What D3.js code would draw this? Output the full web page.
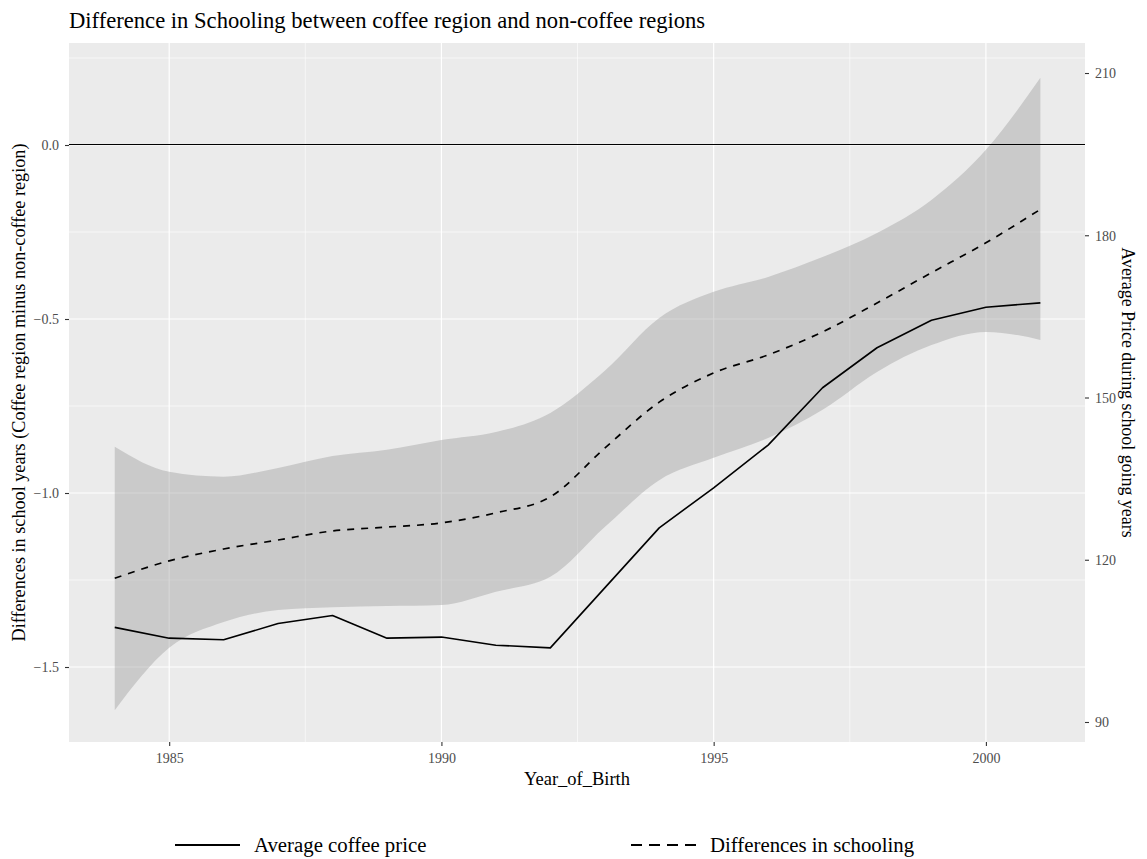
<!DOCTYPE html>
<html>
<head>
<meta charset="utf-8">
<script src="https://cdn.jsdelivr.net/npm/d3@7"></script>
<style>
  html, body { margin: 0; padding: 0; background: #ffffff; }
  svg { display: block; }
  text { font-family: "Liberation Serif", "DejaVu Serif", serif; }
</style>
</head>
<body>
<svg id="chart" width="1147" height="859"></svg>
<script>
// Birth cohorts
const years = [1984, 1985, 1986, 1987, 1988, 1989, 1990, 1991, 1992,
               1993, 1994, 1995, 1996, 1997, 1998, 1999, 2000, 2001];

// Average coffee price during school-going years (right axis)
const coffeePrice = [107.5, 105.5, 105.2, 108.2, 109.7, 105.5, 105.7, 104.2, 103.7,
                     114.8, 125.9, 133.3, 141.2, 151.8, 159.2, 164.3, 166.7, 167.5];

// Smoothed difference in schooling, coffee minus non-coffee region (left axis)
const schoolingDiff = [-1.245, -1.195, -1.161, -1.135, -1.109, -1.098, -1.086, -1.057, -1.011,
                       -0.871, -0.739, -0.655, -0.603, -0.537, -0.454, -0.367, -0.281, -0.185];

// Confidence band around the smoothed difference
const bandUpper = [-0.867, -0.939, -0.953, -0.928, -0.894, -0.876, -0.848, -0.825, -0.770,
                   -0.649, -0.497, -0.422, -0.379, -0.322, -0.253, -0.158, -0.014, 0.193];
const bandLower = [-1.624, -1.445, -1.371, -1.336, -1.328, -1.325, -1.322, -1.284, -1.241,
                   -1.098, -0.963, -0.899, -0.842, -0.761, -0.652, -0.575, -0.537, -0.560];

// Tick values
const xTicks = [1985, 1990, 1995, 2000];
const xMinorTicks = [1987.5, 1992.5, 1997.5];
const leftTicks = [0.0, -0.5, -1.0, -1.5];
const leftMinorTicks = [0.25, -0.25, -0.75, -1.25];
const rightTicks = [90, 120, 150, 180, 210];

const legendLabels = ["Average coffee price", "Differences in schooling"];

const svg = d3.select("#chart");
const panel = { left: 69, right: 1085, top: 43, bottom: 742 };

const x = d3.scaleLinear().domain([1983.16, 2001.82]).range([panel.left, panel.right]);
const yL = d3.scaleLinear().domain([-1.7155, 0.2931]).range([panel.bottom, panel.top]);
const yR = d3.scaleLinear().domain([86.30, 215.55]).range([panel.bottom, panel.top]);

// Panel background
svg.append("rect")
  .attr("x", panel.left).attr("y", panel.top)
  .attr("width", panel.right - panel.left).attr("height", panel.bottom - panel.top)
  .attr("fill", "#EBEBEB");

const grid = svg.append("g");
// Minor grid
grid.selectAll("line.vminor").data(xMinorTicks).join("line")
  .attr("x1", d => x(d)).attr("x2", d => x(d))
  .attr("y1", panel.top).attr("y2", panel.bottom)
  .attr("stroke", "#ffffff").attr("stroke-width", 0.6);
grid.selectAll("line.hminor").data(leftMinorTicks).join("line")
  .attr("x1", panel.left).attr("x2", panel.right)
  .attr("y1", d => yL(d)).attr("y2", d => yL(d))
  .attr("stroke", "#ffffff").attr("stroke-width", 0.6);
// Major grid
grid.selectAll("line.vmajor").data(xTicks).join("line")
  .attr("x1", d => x(d)).attr("x2", d => x(d))
  .attr("y1", panel.top).attr("y2", panel.bottom)
  .attr("stroke", "#ffffff").attr("stroke-width", 1.2);
grid.selectAll("line.hmajor").data(leftTicks).join("line")
  .attr("x1", panel.left).attr("x2", panel.right)
  .attr("y1", d => yL(d)).attr("y2", d => yL(d))
  .attr("stroke", "#ffffff").attr("stroke-width", 1.2);

const rows = years.map((yr, i) => ({
  year: yr, price: coffeePrice[i], diff: schoolingDiff[i],
  lo: bandLower[i], hi: bandUpper[i]
}));

// Confidence band
svg.append("path")
  .datum(rows)
  .attr("d", d3.area()
    .x(d => x(d.year))
    .y0(d => yL(d.lo))
    .y1(d => yL(d.hi))
    .curve(d3.curveMonotoneX))
  .attr("fill", "#999999").attr("fill-opacity", 0.4);

// Zero reference line
svg.append("line")
  .attr("x1", panel.left).attr("x2", panel.right)
  .attr("y1", yL(0)).attr("y2", yL(0))
  .attr("stroke", "#000000").attr("stroke-width", 1)
  .attr("shape-rendering", "crispEdges");

// Smoothed schooling difference (dashed)
svg.append("path")
  .datum(rows)
  .attr("d", d3.line().x(d => x(d.year)).y(d => yL(d.diff)).curve(d3.curveMonotoneX))
  .attr("fill", "none").attr("stroke", "#000000")
  .attr("stroke-width", 1.7).attr("stroke-dasharray", "7,7");

// Coffee price (solid)
svg.append("path")
  .datum(rows)
  .attr("d", d3.line().x(d => x(d.year)).y(d => yR(d.price)))
  .attr("fill", "none").attr("stroke", "#000000")
  .attr("stroke-width", 1.6).attr("stroke-linejoin", "round");

// Axes
const tickColor = "#333333";
const labelColor = "#4D4D4D";

const xAxis = svg.append("g")
  .attr("transform", `translate(0,${panel.bottom})`)
  .call(d3.axisBottom(x).tickValues(xTicks).tickFormat(d3.format("d")).tickSize(4).tickPadding(7));
const yAxisL = svg.append("g")
  .attr("transform", `translate(${panel.left},0)`)
  .call(d3.axisLeft(yL).tickValues(leftTicks).tickFormat(d3.format(".1f")).tickSize(4).tickPadding(6));
const yAxisR = svg.append("g")
  .attr("transform", `translate(${panel.right},0)`)
  .call(d3.axisRight(yR).tickValues(rightTicks).tickFormat(d3.format("d")).tickSize(4).tickPadding(6));

[xAxis, yAxisL, yAxisR].forEach(g => {
  g.select(".domain").remove();
  g.selectAll(".tick line").attr("stroke", tickColor).attr("stroke-width", 1.1);
  g.selectAll(".tick text")
    .attr("fill", labelColor)
    .style("font-family", "'Liberation Serif', serif")
    .style("font-size", "14px");
});
yAxisL.selectAll(".tick text").attr("dy", "0.35em");
yAxisR.selectAll(".tick text").attr("dy", "0.35em");

// Title
svg.append("text")
  .attr("x", panel.left).attr("y", 28)
  .style("font-size", "22.6px").attr("fill", "#000000")
  .text("Difference in Schooling between coffee region and non-coffee regions");

// Axis titles
svg.append("text")
  .attr("x", (panel.left + panel.right) / 2).attr("y", 785)
  .attr("text-anchor", "middle")
  .style("font-size", "18.5px").attr("fill", "#000000")
  .text("Year_of_Birth");

svg.append("text")
  .attr("transform", `translate(25,${(panel.top + panel.bottom) / 2}) rotate(-90)`)
  .attr("text-anchor", "middle")
  .style("font-size", "18.2px").attr("fill", "#000000")
  .text("Differences in school years (Coffee region minus non-coffee region)");

svg.append("text")
  .attr("transform", `translate(1122,${(panel.top + panel.bottom) / 2}) rotate(90)`)
  .attr("text-anchor", "middle")
  .style("font-size", "17.9px").attr("fill", "#000000")
  .text("Average Price during school going years");

// Legend
const legend = svg.append("g");
const legendItems = [
  { label: legendLabels[0], dash: null, x0: 175 },
  { label: legendLabels[1], dash: "11,7", x0: 631 }
];
legendItems.forEach(item => {
  legend.append("line")
    .attr("x1", item.x0).attr("x2", item.x0 + 65)
    .attr("y1", 845).attr("y2", 845)
    .attr("stroke", "#000000").attr("stroke-width", 1.8)
    .attr("stroke-dasharray", item.dash);
  legend.append("text")
    .attr("x", item.x0 + 79).attr("y", 852)
    .style("font-size", "20.8px").attr("fill", "#000000")
    .text(item.label);
});
</script>
</body>
</html>
